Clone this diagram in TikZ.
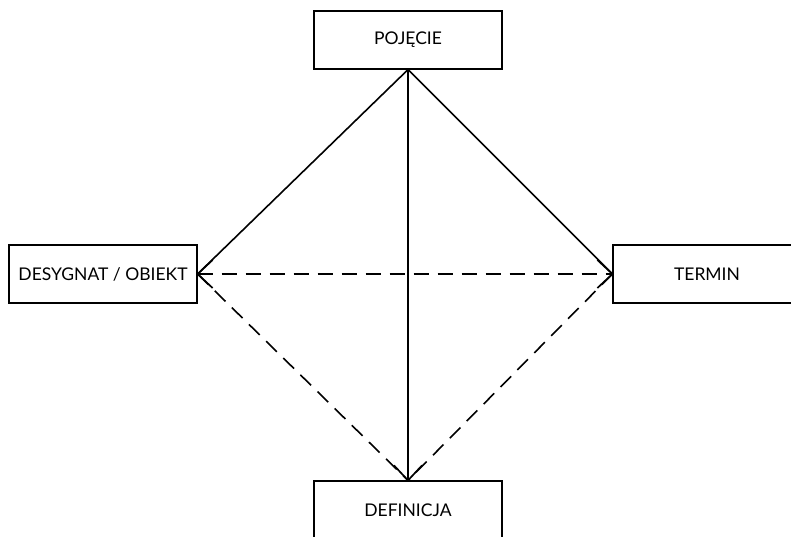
\documentclass[tikz,border=0pt]{standalone}
\usepackage{fontspec}
\setmainfont{Lato}
\begin{document}
\begin{tikzpicture}[x=1pt,y=1pt,
  conceptbox/.style={draw, line width=1.2pt, minimum width=188pt, minimum height=58pt,
    inner sep=0pt, font=\fontsize{17.5pt}{19pt}\selectfont},
  solidlink/.style={line width=1.6pt},
  dashlink/.style={line width=1.6pt, dash pattern=on 15pt off 9pt},
  barbline/.style={line width=1.7pt}]
  \useasboundingbox (0,0) rectangle (791,-537);

  % the four terms of the semantic square, the outer ones run past the edge
  \begin{scope}
    \clip (0,0) rectangle (791,-537);
    \node[conceptbox] (pojecie)   at (408,-40)  {POJĘCIE};
    \node[conceptbox] (desygnat)  at (103,-274) {DESYGNAT / OBIEKT};
    \node[conceptbox] (termin)    at (707,-274) {TERMIN};
    \node[conceptbox] (definicja) at (408,-510) {DEFINICJA};
  \end{scope}

  % solid links from the concept
  \draw[solidlink] (pojecie.south) -- (desygnat.east);
  \draw[solidlink] (pojecie.south) -- (termin.west);
  \draw[solidlink] (pojecie.south) -- (definicja.north);

  % dashed links between the other three
  \draw[dashlink] (desygnat.east) -- (termin.west);
  \draw[dashlink] (desygnat.east) -- (definicja.north);
  \draw[dashlink] (termin.west) -- (definicja.north);

  % open barbed heads, one stroke per side
  \draw[barbline] (definicja.north) -- ++(-14,15);
  \draw[barbline] (definicja.north) -- ++(14,15);
  \draw[barbline] (desygnat.east) -- ++(15,14);
  \draw[barbline] (desygnat.east) -- ++(15,-14);
  \draw[barbline] (termin.west) -- ++(-15,14);
  \draw[barbline] (termin.west) -- ++(-15,-14);
\end{tikzpicture}
\end{document}
